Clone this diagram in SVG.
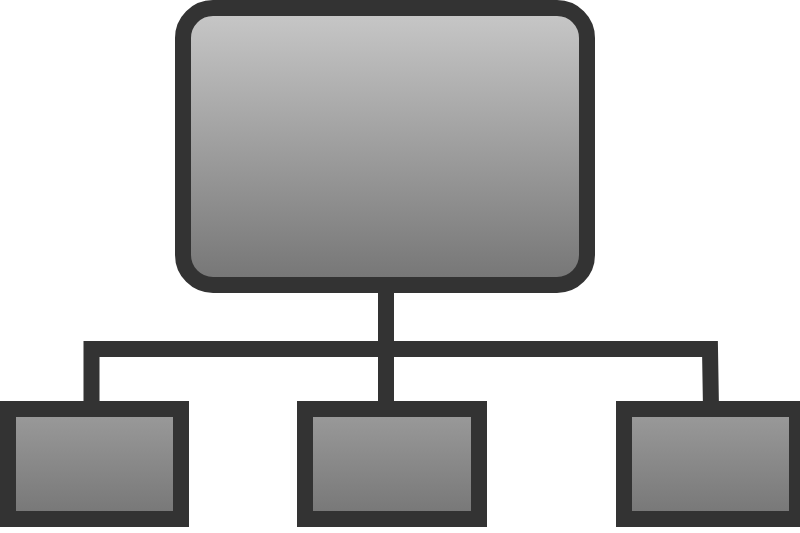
<svg xmlns="http://www.w3.org/2000/svg" width="800" height="533" viewBox="0 0 800 533">
<defs>
<linearGradient id="gTop" x1="0" y1="0" x2="0" y2="1">
<stop offset="0" stop-color="#c8c8c8"/>
<stop offset="1" stop-color="#757575"/>
</linearGradient>
<linearGradient id="gSmall" x1="0" y1="0" x2="0" y2="1">
<stop offset="0" stop-color="#9b9b9b"/>
<stop offset="1" stop-color="#767676"/>
</linearGradient>
<style>
.ln{fill:none;stroke:#333333;stroke-width:16;stroke-linejoin:miter;stroke-linecap:butt}
.top{fill:url(#gTop);stroke:#333333;stroke-width:16}
.sm{fill:url(#gSmall);stroke:#333333;stroke-width:16}
</style>
</defs>
<g id="connectors">
<path class="ln" d="M386 285 V409"/>
<path class="ln" d="M91.5 409 V349 H710 L711 409"/>
</g>
<g id="root"><rect class="top" x="183" y="8" width="404" height="277" rx="30" ry="30"/></g>
<g id="child-left"><rect class="sm" x="8" y="409" width="173" height="110"/></g>
<g id="child-middle"><rect class="sm" x="305" y="409" width="174" height="110"/></g>
<g id="child-right"><rect class="sm" x="624" y="409" width="173" height="110"/></g>
</svg>
